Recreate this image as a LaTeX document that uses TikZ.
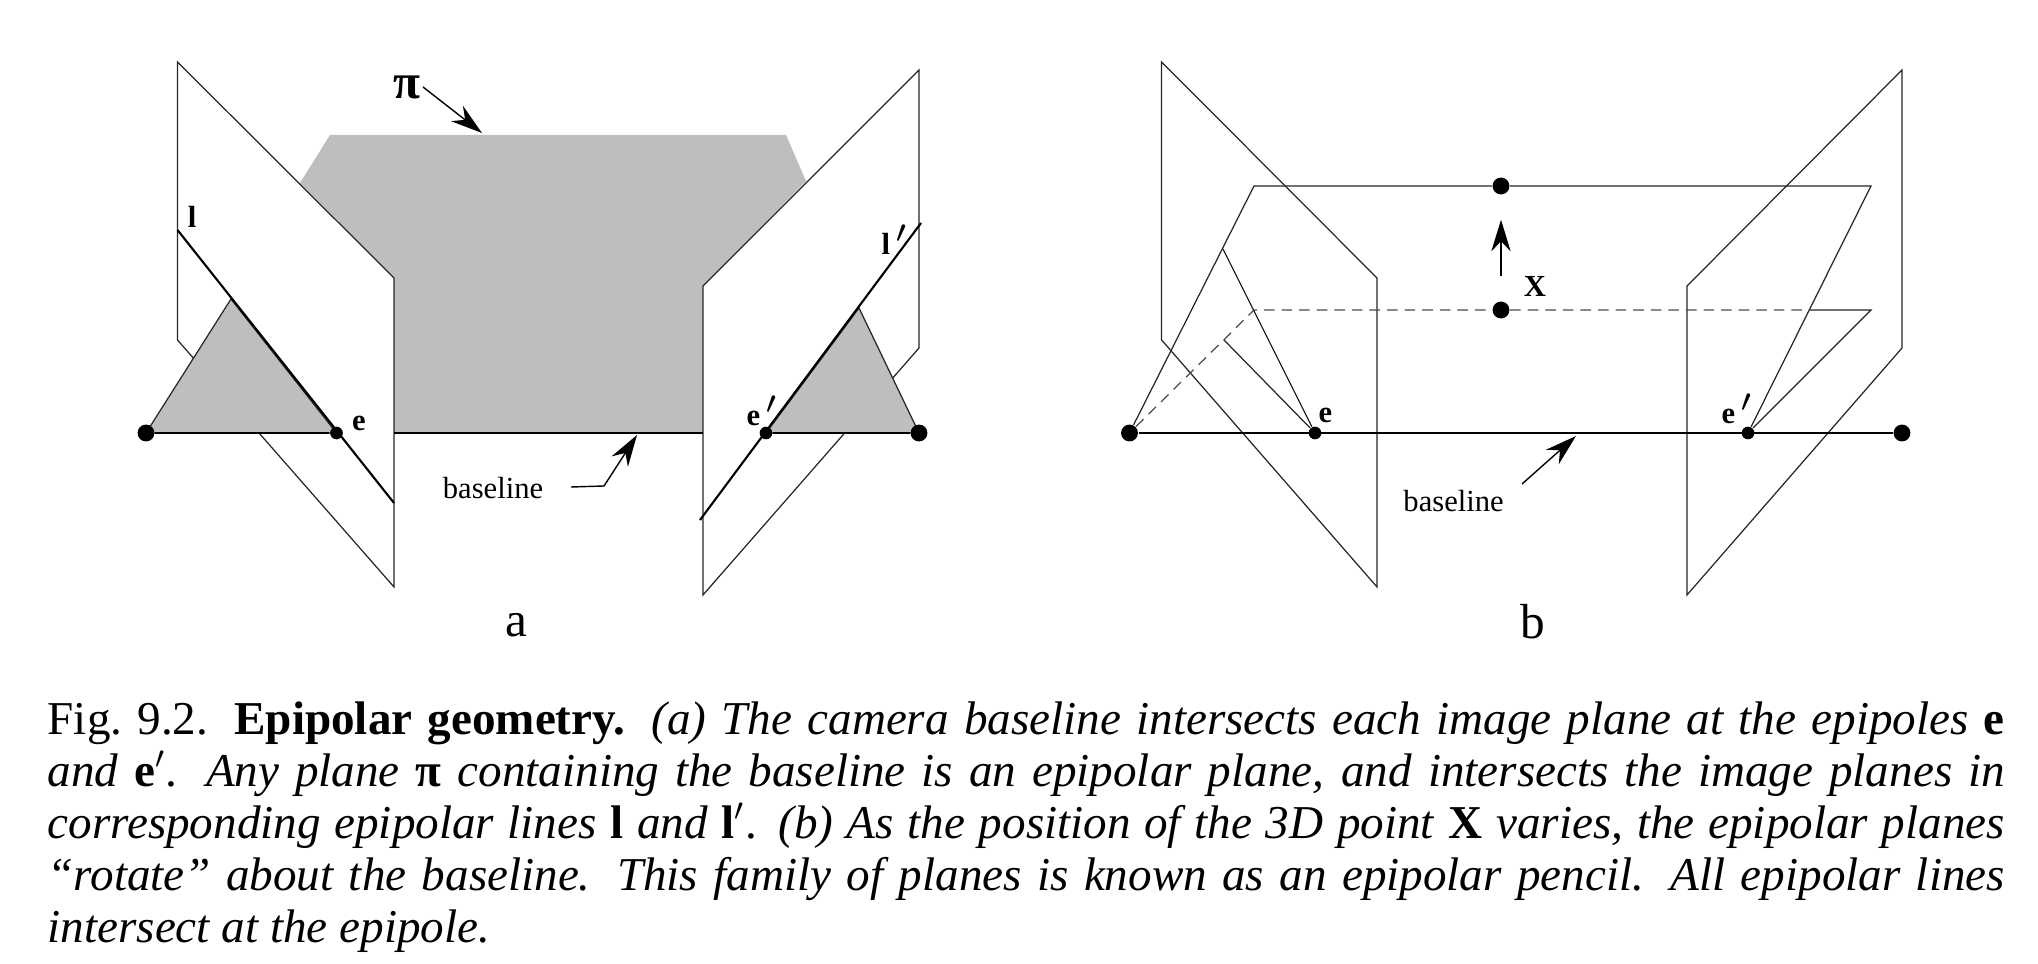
\documentclass[tikz,border=0pt]{standalone}
\usepackage{fontspec}
\usepackage{graphicx}
\setmainfont{Liberation Serif}
\usetikzlibrary{arrows.meta}
\definecolor{planegray}{RGB}{190,190,190}
\newcommand{\bv}[1]{\textup{\textbf{#1}}}
\newcommand{\bigprime}{\,\raisebox{-2.2pt}{\scalebox{1.5}{$^{\prime}$}}}
\tikzset{
    plane/.style={draw=black!85, line width=0.35pt, fill=white, line join=miter},
    thinline/.style={draw=black!85, line width=0.35pt},
    thickline/.style={draw=black, line width=0.75pt},
    epiline/.style={draw=black, line width=0.6pt},
    dashline/.style={draw=black!70, line width=0.35pt, dash pattern=on 3pt off 2pt},
    pointer/.style={draw=black, line width=0.4pt, -{Stealth[length=9pt,width=5.5pt]}},
    bigdot/.style={circle, fill=black, inner sep=0pt, minimum size=4.8pt},
    smalldot/.style={circle, fill=black, inner sep=0pt, minimum size=3.6pt},
    figlabel/.style={font=\fontsize{8.7}{10}\selectfont, inner sep=0pt},
    boldlabel/.style={font=\fontsize{8.7}{10}\selectfont\bfseries, inner sep=0pt},
    panellabel/.style={font=\fontsize{14}{16}\selectfont, inner sep=0pt}
}
\begin{document}
\begin{tikzpicture}[x=0.01cm, y=-0.01cm]
    \useasboundingbox (0, 0) rectangle (2038, 964);

    % Panel a - epipolar plane
    \fill[planegray] (300, 183) -- (330, 135) -- (786, 135) -- (806, 181)
        -- (703, 286) -- (703, 433) -- (394, 433) -- (394, 278) -- cycle;

    % Image planes
    \draw[plane] (177.5, 62) -- (394, 278) -- (394, 587) -- (177.5, 340) -- cycle;
    \draw[plane] (919, 70) -- (703, 286) -- (703, 595) -- (919, 348) -- cycle;

    % Triangles on the baseline
    \coordinate (apexL) at (231, 299);
    \coordinate (apexR) at (859, 308);
    \coordinate (footL) at (146, 433);
    \coordinate (footR) at (919, 433);
    \coordinate (footE) at (336.5, 433);
    \coordinate (footEp) at (766, 433);
    \draw[thinline, fill=planegray] (footL) -- (apexL) -- (footE) -- cycle;
    \draw[thinline, fill=planegray] (footR) -- (apexR) -- (footEp) -- cycle;
    \node[bigdot] (camL) at (footL) {};
    \node[smalldot] (epiL) at (footE) {};
    \node[smalldot] (epiR) at (footEp) {};
    \node[bigdot] (camR) at (footR) {};

    % Baseline pieces
    \coordinate (baseA) at (394, 433);
    \coordinate (baseB) at (703, 433);
    \draw[thickline] (camL) -- (epiL);
    \draw[thickline] (baseA) -- (baseB);
    \draw[thickline] (epiR) -- (camR);

    % Epipolar lines
    \coordinate (lineLa) at (177.5, 230);
    \coordinate (lineLb) at (394, 503);
    \coordinate (lineRa) at (921, 223);
    \coordinate (lineRb) at (700, 520);
    \draw[epiline] (lineLa) -- (lineLb);
    \draw[epiline] (lineRa) -- (lineRb);

    % Labels of panel a
    \node[font=\fontsize{14}{16}\selectfont\bfseries, inner sep=0pt] (piLabel) at (407, 87) {π};
    \coordinate (piTail) at (423, 87);
    \coordinate (piTip) at (482, 133);
    \draw[pointer] (piTail) -- (piTip);
    \node[boldlabel] (lLabel) at (192, 217) {l};
    \node[boldlabel, anchor=base west] (lpLabel) at (881, 255) {l\bigprime};
    \node[boldlabel] (eLabel) at (359, 423) {e};
    \node[boldlabel, anchor=base west] (epLabel) at (746, 426) {e\bigprime};
    \node[figlabel] (baseLabelA) at (493, 488) {baseline};
    \coordinate (tailA) at (571, 487);
    \coordinate (bendA) at (604, 486);
    \coordinate (tipA) at (637, 435);
    \draw[pointer] (tailA) -- (bendA) -- (tipA);
    \node[panellabel] (panelA) at (516, 625) {a};

    % Panel b - image planes
    \draw[plane] (1161.6, 62) -- (1377, 278) -- (1377, 587) -- (1161.6, 340) -- cycle;
    \draw[plane] (1902, 70) -- (1687, 286) -- (1687, 595) -- (1902, 348) -- cycle;

    \node[bigdot] (camLb) at (1129.5, 433) {};
    \node[smalldot] (epiLb) at (1315, 433) {};
    \node[smalldot] (epiRb) at (1748, 433) {};
    \node[bigdot] (camRb) at (1902, 433) {};
    \node[bigdot] (ptTop) at (1501, 186) {};
    \node[bigdot] (ptLow) at (1501, 310) {};

    % Upper epipolar plane
    \coordinate (upL) at (1254, 186);
    \coordinate (upR) at (1871, 186);
    \draw[thinline] (camLb) -- (upL) -- (ptTop) -- (upR) -- (epiRb);

    % Lower epipolar plane, dashed behind the image planes
    \coordinate (lowL) at (1254, 310);
    \coordinate (lowM) at (1810, 310);
    \coordinate (lowR) at (1871, 310);
    \draw[dashline] (camLb) -- (lowL) -- (ptLow) -- (lowM);
    \draw[thinline] (lowM) -- (lowR) -- (epiRb);

    % Epipolar lines meeting at e
    \coordinate (imgA) at (1223, 249);
    \coordinate (imgB) at (1224, 340);
    \draw[thinline] (imgA) -- (epiLb) -- (imgB);

    \draw[thickline] (camLb) -- (camRb);

    % Labels of panel b
    \draw[pointer, shorten <=7pt, shorten >=7pt] (ptLow) -- (ptTop);
    \node[boldlabel] (xLabel) at (1535, 286) {X};
    \node[boldlabel] (eLabelB) at (1325.5, 415) {e};
    \node[boldlabel, anchor=base west] (epLabelB) at (1721, 424) {e\bigprime};
    \node[figlabel] (baseLabelB) at (1453.6, 501) {baseline};
    \coordinate (tailB) at (1522, 484);
    \coordinate (tipB) at (1576, 436);
    \draw[pointer] (tailB) -- (tipB);
    \node[panellabel] (panelB) at (1533, 622) {b};

    % Caption
    \node[anchor=north west, inner sep=0pt, text width=19.56cm, align=justify,
        font=\fontsize{13.4}{14.8}\selectfont] (caption) at (47, 701) {%
        Fig.~9.2. \textbf{Epipolar geometry.} \textit{(a) The camera baseline intersects each image plane at the epipoles} \bv{e}\linebreak
        \textit{and} \bv{e}$^{\prime}$. \textit{Any plane} \bv{π} \textit{containing the baseline is an epipolar plane, and intersects the image planes in}\linebreak
        \textit{corresponding epipolar lines} \bv{l} \textit{and} \bv{l}$^{\prime}$. \textit{(b) As the position of the 3D point} \bv{X} \textit{varies, the epipolar planes}\linebreak
        \textit{``rotate'' about the baseline. This family of planes is known as an epipolar pencil. All epipolar lines}\linebreak
        \textit{intersect at the epipole.}};
\end{tikzpicture}
\end{document}
